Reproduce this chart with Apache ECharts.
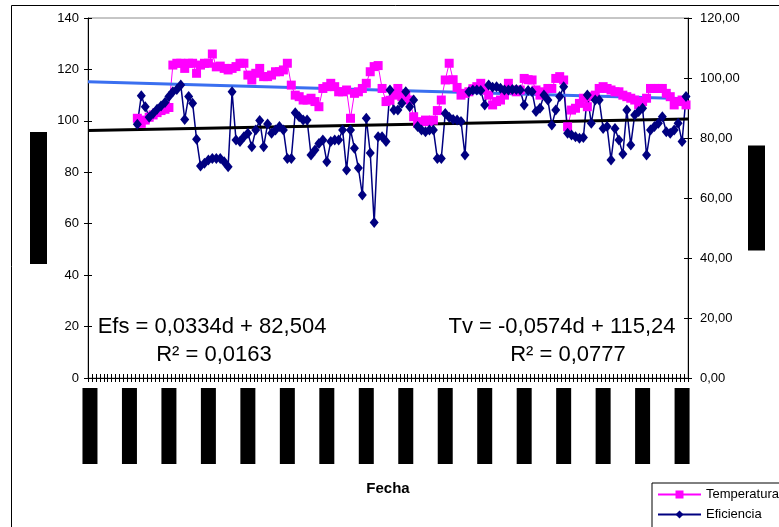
<!DOCTYPE html>
<html>
<head>
<meta charset="utf-8">
<script src="https://cdn.jsdelivr.net/npm/echarts@6/dist/echarts.min.js"></script>
<style>
  html, body { margin: 0; padding: 0; background: #fff; }
  #chart { width: 779px; height: 527px; }
</style>
</head>
<body>
<div id="chart"></div>
<script>
// day index for each category on the x axis
const days = Array.from({ length: 152 }, (_, i) => String(i + 1));
// first category that has data
const firstDay = 12;

// Temperatura (left axis)
const temperatura = [
  101, 99, 100.3, 101.4, 102.3, 103.2, 104, 104.5, 105.2, 121.7, 122.4, 122.4,
  120.4, 122.4, 122.4, 118.5, 121.7, 122.4, 122.4, 126, 121, 121.3, 120.4, 119.8,
  120.4, 121.1, 122.4, 122.4, 117.8, 115.9, 118.5, 120.4, 117.2, 117.2, 117.8, 119.1,
  119.1, 119.8, 122.4, 113.9, 110, 109.4, 108.1, 108.1, 108.8, 107.5, 105.5, 112.6,
  113.3, 114.6, 113.3, 111.3, 111.3, 112, 101, 110.7, 111.3, 112.6, 114.6, 119.1,
  121.1, 121.5, 112.6, 107.5, 108, 110, 112.6, 109.4, 110, 108.1, 101.6, 99,
  99.7, 100.3, 99.7, 100.3, 104, 108.1, 115.9, 122.4, 116, 113, 110, 110.7,
  111.3, 112.5, 113.3, 114.6, 112, 110, 106.2, 107.5, 108.1, 110, 114.6, 112,
  111.3, 112, 116.5, 116, 115.9, 112, 110, 111.3, 112.6, 112.6, 116.5, 117.2,
  115.9, 97.7, 104.2, 104.9, 106.8, 108.8, 105.5, 109.4, 110, 112.6, 113.3, 112.6,
  112, 111.3, 111.3, 110, 109.4, 108.8, 108.1, 106.2, 107.5, 108.8, 112.6, 112.6,
  112.6, 112.6, 110.7, 109.4, 106.2, 107.5, 108.1, 106.2
];

// Eficiencia (right axis)
const eficiencia = [
  84.6, 94.1, 90.4, 86.9, 88.2, 89.6, 90.7, 91.8, 93.8, 95.4, 96.2, 97.7,
  86.2, 93.8, 91.6, 79.6, 70.7, 71.6, 72.7, 73.2, 73.2, 73.2, 72.1, 70.4,
  95.4, 79.3, 78.8, 80.4, 81.6, 77.1, 82.7, 85.8, 77.1, 84.7, 81.6, 82.7,
  83.8, 82.7, 73.2, 73.2, 88.4, 87.1, 86, 86, 74.3, 76, 78.2, 79.3,
  72.1, 78.8, 79.3, 79.3, 82.7, 69.3, 82.7, 76.6, 70, 61, 86.6, 75,
  51.8, 80.4, 80.4, 78.8, 96, 89.3, 89.3, 91.6, 95.4, 90.4, 92.7, 83.8,
  82.7, 82.1, 82.7, 82.7, 73.2, 73.2, 88.2, 86.9, 86.2, 86, 85.5, 74.3,
  95.4, 96, 96, 95.8, 91, 97.7, 96.9, 97.1, 96.6, 96, 96, 96.2,
  96.2, 96, 91, 95.8, 95.4, 88.8, 89.9, 94.3, 92.7, 84.3, 89.3, 93.8,
  97.1, 81.6, 81, 80.4, 79.9, 80.2, 94.3, 84.9, 92.7, 92.7, 83.2, 83.8,
  72.7, 83.2, 79.3, 74.7, 89.3, 77.7, 87.7, 88.8, 89.9, 74.3, 82.7, 83.8,
  84.9, 87.1, 82.1, 81.6, 82.7, 84.9, 78.8, 93.8
];

// linear trends: [slope, intercept], over this range of d
const tvTrend = [-0.0574, 115.24];
const efsTrend = [0.0334, 82.504];
const trendDays = [0, 115];

const efsLabel = ['Efs = 0,0334d + 82,504', 'R² = 0,0163'];
const tvLabel = ['Tv = -0,0574d + 115,24', 'R² = 0,0777'];

const font = 'Liberation Sans, Arial, sans-serif';
const pad = new Array(firstDay).fill(null);
const trendLine = (coef) => trendDays.map(d => [d, coef[0] * d + coef[1]]);

const chart = echarts.init(document.getElementById('chart'));

const yBase = {
  type: 'value',
  interval: 20,
  min: 0,
  axisLine: { show: true, lineStyle: { color: '#000' } },
  axisTick: { show: true, length: 4, lineStyle: { color: '#000' } },
  axisLabel: { fontSize: 13, color: '#000', fontFamily: font },
  splitLine: { show: false },
  nameLocation: 'middle',
  nameRotate: 0
};

const yInner = {
  type: 'value',
  interval: 20,
  min: 0,
  axisLine: { show: false },
  axisTick: { show: true, inside: true, length: 4, lineStyle: { color: '#000' } },
  axisLabel: { show: false },
  splitLine: { show: false }
};

const option = {
  animation: false,
  textStyle: { fontFamily: font },
  grid: {
    left: 88, right: 91, top: 18, bottom: 149,
    show: true, borderColor: '#8c8c8c', borderWidth: 1
  },
  legend: {
    data: ['Temperatura', 'Eficiencia'],
    orient: 'vertical',
    left: 652,
    top: 483,
    height: 60,
    padding: [5, 40, 10, 5],
    itemGap: 7,
    itemWidth: 43,
    itemHeight: 10,
    borderColor: '#000',
    borderWidth: 1,
    borderRadius: 0,
    textStyle: { fontSize: 13, color: '#000' }
  },
  xAxis: [
    {
      type: 'category',
      data: days,
      boundaryGap: true,
      axisLine: { lineStyle: { color: '#000' } },
      axisTick: { show: true, interval: 0, length: 4, lineStyle: { color: '#000' } },
      axisLabel: {
        interval: 9,
        margin: 10,
        formatter: () => '{box| }',
        rich: { box: { width: 15, height: 76, backgroundColor: '#000' } }
      },
      name: 'Fecha',
      nameLocation: 'middle',
      nameGap: 103,
      nameTextStyle: { fontWeight: 'bold', fontSize: 15, color: '#000' }
    },
    {
      type: 'category',
      data: days,
      position: 'bottom',
      axisLine: { show: false },
      axisTick: { show: true, interval: 0, inside: true, length: 4, lineStyle: { color: '#000' } },
      axisLabel: { show: false }
    },
    { type: 'value', min: trendDays[0], max: trendDays[1], show: false }
  ],
  yAxis: [
    Object.assign({}, yBase, {
      max: 140, position: 'left',
      axisLabel: Object.assign({}, yBase.axisLabel, { margin: 9 }),
      name: '{box| }', nameGap: 41,
      nameTextStyle: { rich: { box: { width: 17, height: 132, backgroundColor: '#000' } } }
    }),
    Object.assign({}, yBase, {
      max: 120, position: 'right',
      axisLabel: Object.assign({}, yBase.axisLabel, {
        margin: 12,
        formatter: v => v.toFixed(2).replace('.', ',')
      }),
      name: '{box| }', nameGap: 60,
      nameTextStyle: { rich: { box: { width: 17, height: 105, backgroundColor: '#000' } } }
    }),
    Object.assign({}, yInner, { max: 140, position: 'left' }),
    Object.assign({}, yInner, { max: 120, position: 'right' })
  ],
  series: [
    {
      name: 'Temperatura',
      type: 'line',
      xAxisIndex: 0,
      yAxisIndex: 0,
      data: pad.concat(temperatura),
      symbol: 'rect',
      symbolSize: 9,
      showAllSymbol: true,
      itemStyle: { color: '#ff00ff' },
      lineStyle: { color: '#ff00ff', width: 1 }
    },
    {
      name: 'Eficiencia',
      type: 'line',
      xAxisIndex: 0,
      yAxisIndex: 1,
      data: pad.concat(eficiencia),
      symbol: 'diamond',
      symbolSize: [9, 11],
      showAllSymbol: true,
      itemStyle: { color: '#000080' },
      lineStyle: { color: '#000080', width: 1.5 }
    },
    {
      name: 'Tendencia Tv',
      type: 'line',
      xAxisIndex: 2,
      yAxisIndex: 0,
      data: trendLine(tvTrend),
      symbol: 'none',
      silent: true,
      lineStyle: { color: '#3a6ff0', width: 3 }
    },
    {
      name: 'Tendencia Efs',
      type: 'line',
      xAxisIndex: 2,
      yAxisIndex: 1,
      data: trendLine(efsTrend),
      symbol: 'none',
      silent: true,
      lineStyle: { color: '#000', width: 3 }
    }
  ],
  graphic: [
    {
      type: 'rect', silent: true, z: -10,
      shape: { x: 11.5, y: 5.5, width: 800, height: 600 },
      style: { fill: 'none', stroke: '#000', lineWidth: 1 }
    },
    { type: 'text', x: 212, y: 327, style: { text: efsLabel[0], font: '22px ' + font, fill: '#000', align: 'center', verticalAlign: 'middle' } },
    { type: 'text', x: 214, y: 355, style: { text: efsLabel[1], font: '22px ' + font, fill: '#000', align: 'center', verticalAlign: 'middle' } },
    { type: 'text', x: 562, y: 327, style: { text: tvLabel[0], font: '22px ' + font, fill: '#000', align: 'center', verticalAlign: 'middle' } },
    { type: 'text', x: 568, y: 355, style: { text: tvLabel[1], font: '22px ' + font, fill: '#000', align: 'center', verticalAlign: 'middle' } }
  ]
};

chart.setOption(option);
</script>
</body>
</html>
